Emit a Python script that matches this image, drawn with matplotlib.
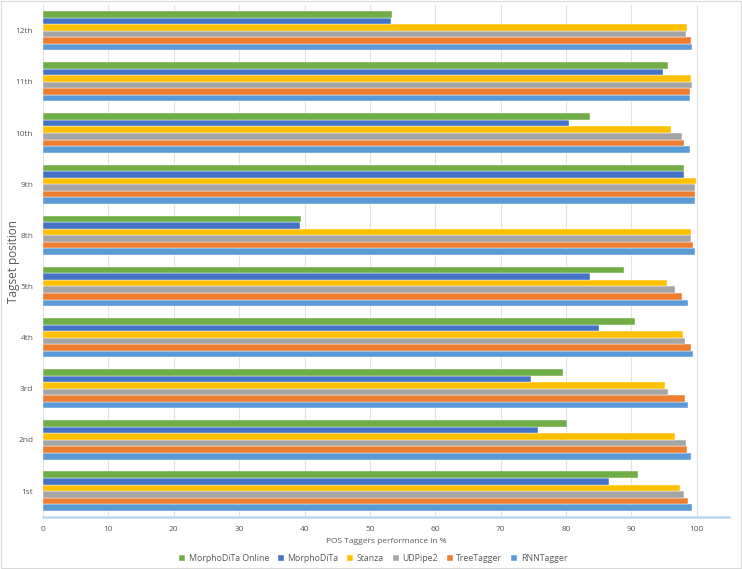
import numpy as np
import matplotlib.pyplot as plt
from matplotlib.patches import Rectangle

# --- Data ---
positions = ["1st", "2nd", "3rd", "4th", "5th", "8th", "9th", "10th", "11th", "12th"]

rnntagger = [99.3, 99.2, 98.7, 99.5, 98.7, 99.7, 99.7, 98.9, 99.0, 99.3]
treetagger = [98.7, 98.5, 98.2, 99.2, 97.8, 99.4, 99.7, 98.1, 98.9, 99.2]
udpipe2 = [98.1, 98.3, 95.6, 98.2, 96.7, 99.2, 99.8, 97.7, 99.3, 98.4]
stanza = [97.5, 96.7, 95.2, 97.9, 95.5, 99.1, 99.9, 96.0, 99.2, 98.5]
morphodita = [86.6, 75.7, 74.7, 85.1, 83.7, 39.3, 98.0, 80.4, 94.8, 53.3]
morphodita_online = [91.0, 80.2, 79.5, 90.6, 88.9, 39.4, 98.0, 83.6, 95.6, 53.4]

series = [
    ("RNNTagger", rnntagger, "#5B9BD5"),
    ("TreeTagger", treetagger, "#ED7D31"),
    ("UDPipe2", udpipe2, "#A5A5A5"),
    ("Stanza", stanza, "#FFC000"),
    ("MorphoDiTa", morphodita, "#4472C4"),
    ("MorphoDiTa Online", morphodita_online, "#70AD47"),
]

text_color = "#595959"
plt.rcParams["font.family"] = ["Open Sans", "DejaVu Sans"]

fig = plt.figure(figsize=(7.42, 5.69), dpi=100)
ax = fig.add_axes([0.058, 0.092, 0.925, 0.899])

y = np.arange(len(positions))
h = 0.128
for i, (name, vals, color) in enumerate(series):
    offset = (i - 2.5) * h
    ax.barh(y + offset, vals, height=h, color=color, label=name,
            edgecolor="white", linewidth=0.3)

ax.set_xlim(0, 105)
ax.set_ylim(-0.5, len(positions) - 0.5)
ax.set_xticks(np.arange(0, 101, 10))
ax.set_yticks(y)
ax.set_yticklabels(positions)
ax.tick_params(axis="both", length=0, labelsize=6, colors=text_color)
ax.tick_params(axis="y", pad=7)
ax.tick_params(axis="x", pad=7)

ax.grid(axis="x", color="#E3E3E3", linewidth=0.8)
ax.set_axisbelow(True)
for side in ["top", "right", "left"]:
    ax.spines[side].set_visible(False)
ax.spines["bottom"].set_color("#BDD7EE")
ax.spines["bottom"].set_linewidth(1.8)

ax.set_xlabel("POS Taggers performance in %", fontsize=6, color=text_color, labelpad=3)
fig.text(0.018, 0.54, "Tagset position", rotation=90, ha="center", va="center",
         fontsize=8.5, color=text_color)

handles, labels = ax.get_legend_handles_labels()
fig.legend(handles[::-1], labels[::-1], loc="center", bbox_to_anchor=(0.503, 0.019),
           ncol=6, frameon=False, fontsize=6.3, labelcolor=text_color,
           handlelength=0.7, handleheight=0.7, handletextpad=0.4, columnspacing=1.0)

fig.patches.append(Rectangle((0.001, 0.001), 0.998, 0.998, transform=fig.transFigure,
                             fill=False, edgecolor="#D9D9D9", linewidth=0.8))

fig.savefig("out.png", dpi=100)
